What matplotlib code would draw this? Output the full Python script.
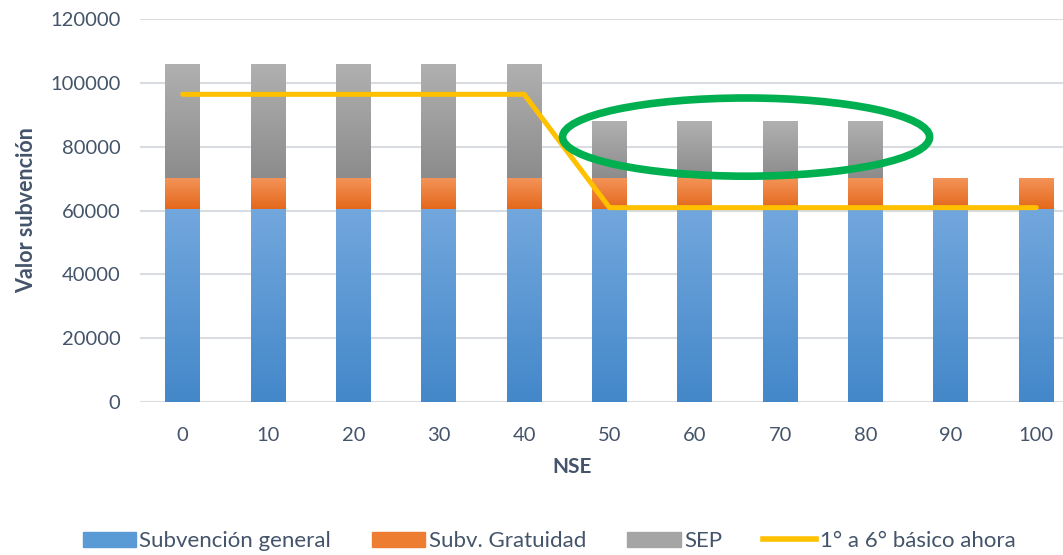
import numpy as np
import matplotlib
matplotlib.use("Agg")
from matplotlib import pyplot as plt
from matplotlib.patches import Ellipse, Patch
from matplotlib.lines import Line2D
from matplotlib.colors import LinearSegmentedColormap

plt.rcParams["font.family"] = ["Lato", "DejaVu Sans"]

nse = ["0", "10", "20", "30", "40", "50", "60", "70", "80", "90", "100"]
general = [60600] * 11
gratuidad = [9700] * 11
sep = [35600] * 5 + [17700] * 4 + [0, 0]
ahora = [96400] * 5 + [60900] * 6

text_col = "#44546A"
grid_col = "#D9DCE1"

fig = plt.figure(figsize=(10.63, 5.55), dpi=100)
ax = fig.add_axes([140 / 1063, (555 - 402) / 555, (1079 - 140) / 1063, 383 / 555])

x = np.arange(len(nse))
w = 0.41


def grad_bars(bottom, height, top_c, bot_c):
    bars = ax.bar(x, height, w, bottom=bottom, color="none", zorder=2)
    cmap = LinearSegmentedColormap.from_list("g", [bot_c, top_c])
    g = np.linspace(0, 1, 64).reshape(-1, 1)
    for b in bars:
        if b.get_height() <= 0:
            continue
        bx, by = b.get_x(), b.get_y()
        im = ax.imshow(g, cmap=cmap, origin="lower", aspect="auto", zorder=2,
                       extent=[bx, bx + b.get_width(), by, by + b.get_height()])
        im.set_clip_path(b)
    return bars


bottom2 = np.array(general)
bottom3 = bottom2 + np.array(gratuidad)
grad_bars(0, general, "#72A7DD", "#4488CA")
grad_bars(bottom2, gratuidad, "#F39358", "#E4681B")
grad_bars(bottom3, sep, "#B0B0B0", "#8C8C8C")

ax.plot(x, ahora, color="#FFC000", lw=3.6, solid_capstyle="round", zorder=3)

# highlight around the reduced SEP bars
ax.add_patch(Ellipse((6.6, 83000), 4.3, 24500, fill=False,
                     edgecolor="#00B050", lw=5.5, zorder=4))

ax.set_xlim(-0.5, 10.5)
ax.set_ylim(0, 120000)
ax.set_yticks(range(0, 120001, 20000))
ax.set_xticks(x)
ax.set_xticklabels(nse)
ax.grid(axis="y", color=grid_col, lw=1.5, zorder=0)
ax.set_axisbelow(True)
for s in ax.spines.values():
    s.set_visible(False)
ax.tick_params(length=0, labelsize=14.5, labelcolor=text_col, pad=14)
ax.tick_params(axis="x", pad=18)
ax.set_ylabel("Valor subvención", fontsize=15.5, fontweight="bold", color=text_col)
ax.yaxis.set_label_coords(-103 / 939, 0.5)
ax.set_xlabel("NSE", fontsize=15, fontweight="bold", color=text_col)
ax.xaxis.set_label_coords((572 - 140) / 939, -55 / 383)

handles = [Patch(color="#5B9BD5"), Patch(color="#ED7D31"), Patch(color="#A5A5A5"),
           Line2D([], [], color="#FFC000", lw=4)]
labels = ["Subvención general", "Subv. Gratuidad", "SEP", "1° a 6° básico ahora"]
fig.legend(handles, labels, loc="center", bbox_to_anchor=(549 / 1063, 0.025), ncol=4,
           frameon=False, fontsize=16, labelcolor=text_col, columnspacing=1.85,
           handlelength=2.4, handletextpad=0.15)

fig.savefig("out.png", dpi=100)
